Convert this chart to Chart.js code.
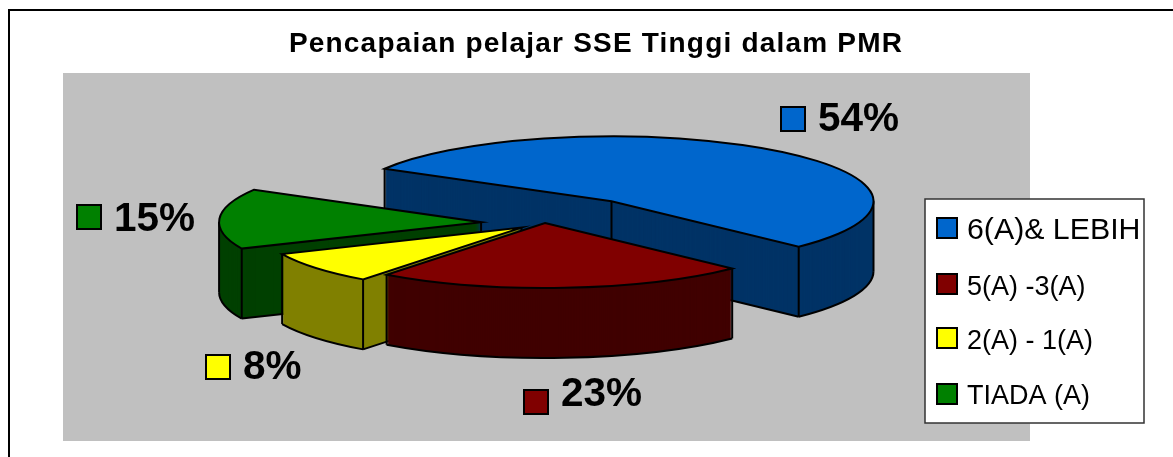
<!DOCTYPE html>
<html>
<head>
<meta charset="utf-8">
<style>
  html, body { margin: 0; padding: 0; background: #fff; }
  canvas { display: block; }
</style>
<script src="https://cdn.jsdelivr.net/npm/chart.js@4"></script>
</head>
<body>
<canvas id="chart" width="1173" height="457"></canvas>
<script>
const categories = ['6(A)& LEBIH', '5(A) -3(A)', '2(A) - 1(A)', 'TIADA (A)'];
const percentages = [54, 23, 8, 15];
const chartTitle = 'Pencapaian pelajar SSE Tinggi dalam PMR';

const topColours = ['#0066CC', '#800000', '#FFFF00', '#008000'];
const wallColours = ['#003366', '#400000', '#808000', '#004000'];

// 3d look of the pie
const centre = { x: 545, y: 223 };
const squash = 0.248;
const depth = 70;
const explode = [110, 0, 30, 64];
const drawOrder = [0, 3, 2, 1];

// where the percentage labels and the legend rows sit
const dataLabelSpots = [
  { box: [781, 107], text: [818, 131] },
  { box: [524, 390], text: [561, 406] },
  { box: [206, 355], text: [243, 379] },
  { box: [77, 205], text: [114, 231] }
];
const legendFontSizes = [30.3, 27, 27, 27];
const legendRowTops = [218, 274, 328, 384];
const legendBaselines = [239, 295, 349, 404];

function place(ctx, arc, i, drop) {
  const mid = (arc.startAngle + arc.endAngle) / 2;
  ctx.translate(centre.x + Math.cos(mid) * explode[i],
    centre.y + Math.sin(mid) * explode[i] * squash + drop);
  ctx.scale(1, squash);
  ctx.translate(-arc.x, -arc.y);
}

function slicePath(ctx, arc) {
  ctx.beginPath();
  ctx.moveTo(arc.x, arc.y);
  ctx.arc(arc.x, arc.y, arc.outerRadius, arc.startAngle, arc.endAngle);
  ctx.closePath();
}

function edgeLine(ctx, arc, i, angle, r) {
  ctx.save();
  place(ctx, arc, i, 0);
  ctx.beginPath();
  ctx.moveTo(arc.x + Math.cos(angle) * r, arc.y + Math.sin(angle) * r);
  ctx.restore();
  ctx.save();
  place(ctx, arc, i, depth);
  ctx.lineTo(arc.x + Math.cos(angle) * r, arc.y + Math.sin(angle) * r);
  ctx.restore();
  ctx.stroke();
}

// line along the foot of the wall, only the parts facing the viewer
function footLine(ctx, arc, i, startFaceSeen, endFaceSeen) {
  const TWO_PI = Math.PI * 2;
  for (let k = -1; k <= 1; k++) {
    const from = Math.max(arc.startAngle, k * TWO_PI);
    const to = Math.min(arc.endAngle, k * TWO_PI + Math.PI);
    if (to <= from) continue;
    ctx.save();
    place(ctx, arc, i, depth);
    ctx.beginPath();
    ctx.arc(arc.x, arc.y, arc.outerRadius, from, to);
    ctx.restore();
    ctx.stroke();
  }
  [[startFaceSeen, arc.startAngle], [endFaceSeen, arc.endAngle]].forEach(([seen, a]) => {
    if (!seen) return;
    ctx.save();
    place(ctx, arc, i, depth);
    ctx.beginPath();
    ctx.moveTo(arc.x, arc.y);
    ctx.lineTo(arc.x + Math.cos(a) * arc.outerRadius, arc.y + Math.sin(a) * arc.outerRadius);
    ctx.restore();
    ctx.stroke();
  });
}

function drawSlice(ctx, arc, i) {
  ctx.strokeStyle = '#000';
  ctx.lineWidth = 2;

  ctx.fillStyle = wallColours[i];
  for (let d = depth; d > 0; d--) {
    ctx.save();
    place(ctx, arc, i, d);
    slicePath(ctx, arc);
    ctx.restore();
    ctx.fill();
  }

  const startFaceSeen = Math.cos(arc.startAngle) < 0;
  const endFaceSeen = Math.cos(arc.endAngle) > 0;
  footLine(ctx, arc, i, startFaceSeen, endFaceSeen);

  if (startFaceSeen || endFaceSeen) edgeLine(ctx, arc, i, 0, 0);
  if (startFaceSeen || Math.sin(arc.startAngle) > 0) edgeLine(ctx, arc, i, arc.startAngle, arc.outerRadius);
  if (endFaceSeen || Math.sin(arc.endAngle) > 0) edgeLine(ctx, arc, i, arc.endAngle, arc.outerRadius);
  // side silhouette of the rim
  [-Math.PI, 0, Math.PI].forEach(a => {
    if (a > arc.startAngle && a < arc.endAngle) edgeLine(ctx, arc, i, a, arc.outerRadius);
  });

  ctx.save();
  place(ctx, arc, i, 0);
  arc.draw(ctx);
  ctx.restore();

  ctx.save();
  place(ctx, arc, i, 0);
  slicePath(ctx, arc);
  ctx.restore();
  ctx.stroke();
}

function swatch(ctx, x, y, size, colour) {
  ctx.fillStyle = colour;
  ctx.fillRect(x, y, size, size);
  ctx.strokeStyle = '#000';
  ctx.lineWidth = 2;
  ctx.strokeRect(x, y, size, size);
}

const chartFurniture = {
  id: 'chartFurniture',
  beforeDraw(chart) {
    const ctx = chart.ctx;
    ctx.fillStyle = '#fff';
    ctx.fillRect(0, 0, chart.width, chart.height);
    ctx.fillStyle = '#C0C0C0';
    ctx.fillRect(63, 73, 967, 368);
    ctx.strokeStyle = '#000';
    ctx.lineWidth = 2;
    ctx.strokeRect(9, 10, 1180, 470);
    ctx.letterSpacing = '1.2px';
  },
  beforeDatasetsDraw(chart) {
    chart.ctx.letterSpacing = '0px';
  },
  beforeDatasetDraw(chart, args) {
    const arcs = chart.getDatasetMeta(args.index).data;
    drawOrder.forEach(i => drawSlice(chart.ctx, arcs[i], i));
    return false;
  },
  afterDraw(chart) {
    const ctx = chart.ctx;
    ctx.save();
    ctx.textBaseline = 'alphabetic';
    ctx.textAlign = 'left';

    percentages.forEach((p, i) => {
      const spot = dataLabelSpots[i];
      swatch(ctx, spot.box[0], spot.box[1], 24, topColours[i]);
      ctx.fillStyle = '#000';
      ctx.font = 'bold 40.5px "Liberation Sans"';
      ctx.fillText(p + '%', spot.text[0], spot.text[1]);
    });

    ctx.fillStyle = '#fff';
    ctx.fillRect(925, 199, 219, 224);
    ctx.strokeStyle = '#333';
    ctx.lineWidth = 1.5;
    ctx.strokeRect(925, 199, 219, 224);
    categories.forEach((label, i) => {
      swatch(ctx, 937, legendRowTops[i], 20, topColours[i]);
      ctx.fillStyle = '#000';
      ctx.font = legendFontSizes[i] + 'px "Liberation Sans"';
      ctx.fillText(label, 967, legendBaselines[i]);
    });
    ctx.restore();
  }
};

new Chart(document.getElementById('chart'), {
  type: 'pie',
  data: {
    labels: categories,
    datasets: [{
      data: percentages,
      backgroundColor: topColours,
      borderWidth: 0,
      radius: 262,
      rotation: -60
    }]
  },
  options: {
    responsive: false,
    animation: false,
    layout: { padding: { left: 19 } },
    plugins: {
      legend: { display: false },
      tooltip: { enabled: false },
      title: {
        display: true,
        text: chartTitle,
        color: '#000',
        font: { family: '"Liberation Sans"', size: 28, weight: 'bold' },
        padding: { top: 27, bottom: 0 }
      }
    }
  },
  plugins: [chartFurniture]
});
</script>
</body>
</html>
